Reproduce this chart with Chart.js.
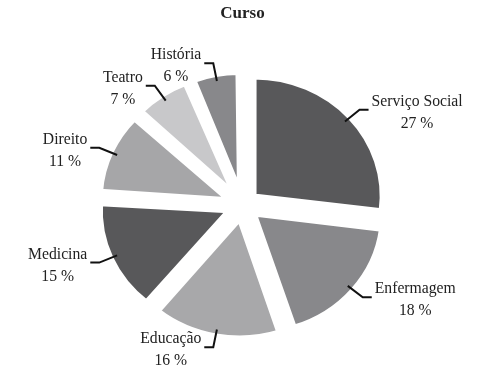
<!DOCTYPE html>
<html>
<head>
<meta charset="utf-8">
<title>Curso</title>
<script src="https://cdn.jsdelivr.net/npm/chart.js@4.4.1/dist/chart.umd.min.js"></script>
<style>
body { margin: 0; background: #fff; }
</style>
</head>
<body>
<canvas id="myChart" width="483" height="366"></canvas>
<script>
// course names and share (%)
const courses = ['Serviço Social', 'Enfermagem', 'Educação', 'Medicina', 'Direito', 'Teatro', 'História'];
const shares = [27, 18, 16, 15, 11, 7, 6];
const sliceColors = ['#58585a', '#88888b', '#a8a8aa', '#58585a', '#a6a6a8', '#c8c8ca', '#88888b'];

const serif = "'Liberation Serif', 'Times New Roman', serif";
const stretchX = 1.08;   // the printed pie is a little wider than tall
const gap = 5;           // white border between slices
const pieRadius = 119;
const pull = 56;         // chart.js offset (slice moves pull/4 px)

// keeps all slices the same radius (chart.js grows thin exploded slices)
// and stretches the pie a bit, then puts name + % outside with a leader line
const pieExtras = {
  id: 'pieExtras',
  afterDatasetsUpdate(chart) {
    const shift = pull / 4;
    chart.getDatasetMeta(0).data.forEach(arc => {
      const circ = arc.endAngle - arc.startAngle;
      const fix = 1 - Math.sin(Math.min(Math.PI, circ));
      arc.outerRadius = pieRadius - shift * fix;
    });
  },
  beforeDatasetsDraw(chart) {
    const ctx = chart.ctx;
    const a = chart.getDatasetMeta(0).data[0];
    ctx.save();
    ctx.translate(a.x, a.y);
    ctx.scale(stretchX, 1);
    ctx.translate(-a.x, -a.y);
  },
  afterDatasetsDraw(chart) {
    const ctx = chart.ctx;
    ctx.restore();
    const meta = chart.getDatasetMeta(0);
    const shift = pull / 4;
    ctx.save();
    ctx.font = '15.7px ' + serif;
    ctx.textAlign = 'center';
    ctx.textBaseline = 'middle';
    ctx.fillStyle = '#222';
    ctx.strokeStyle = '#111';
    ctx.lineWidth = 2;
    meta.data.forEach((arc, i) => {
      const mid = (arc.startAngle + arc.endAngle) / 2;
      const cos = Math.cos(mid), sin = Math.sin(mid);
      const r = pieRadius - gap / 2 + shift;
      const ax = arc.x + stretchX * cos * (r - 4), ay = arc.y + sin * (r - 4);
      const ex = arc.x + stretchX * cos * (r + 14), ey = arc.y + sin * (r + 14);
      const dir = cos >= 0 ? 1 : -1;
      const hx = ex + dir * 9;

      ctx.beginPath();
      ctx.moveTo(ax, ay);
      ctx.lineTo(ex, ey);
      ctx.lineTo(hx, ey);
      ctx.stroke();

      const name = courses[i];
      const pct = shares[i] + ' %';
      const w = Math.max(ctx.measureText(name).width, ctx.measureText(pct).width);
      const cx = dir > 0 ? hx + 3 + w / 2 : hx - 3 - w / 2;
      ctx.fillText(name, cx, ey - 8);
      ctx.fillText(pct, cx, ey + 14);
    });
    ctx.restore();
  }
};

new Chart(document.getElementById('myChart'), {
  type: 'pie',
  data: {
    labels: courses,
    datasets: [{
      data: shares,
      backgroundColor: sliceColors,
      borderColor: '#fff',
      borderWidth: gap,
      offset: pull,
      radius: pieRadius
    }]
  },
  options: {
    responsive: false,
    animation: false,
    layout: { padding: { left: 2, right: 0, top: 0, bottom: 5 } },
    plugins: {
      legend: { display: false },
      tooltip: { enabled: false },
      title: {
        display: true,
        text: 'Curso',
        color: '#222',
        font: { family: serif, size: 17, weight: 'bold' },
        padding: { top: 3, bottom: 26 }
      }
    }
  },
  plugins: [pieExtras]
});
</script>
</body>
</html>
